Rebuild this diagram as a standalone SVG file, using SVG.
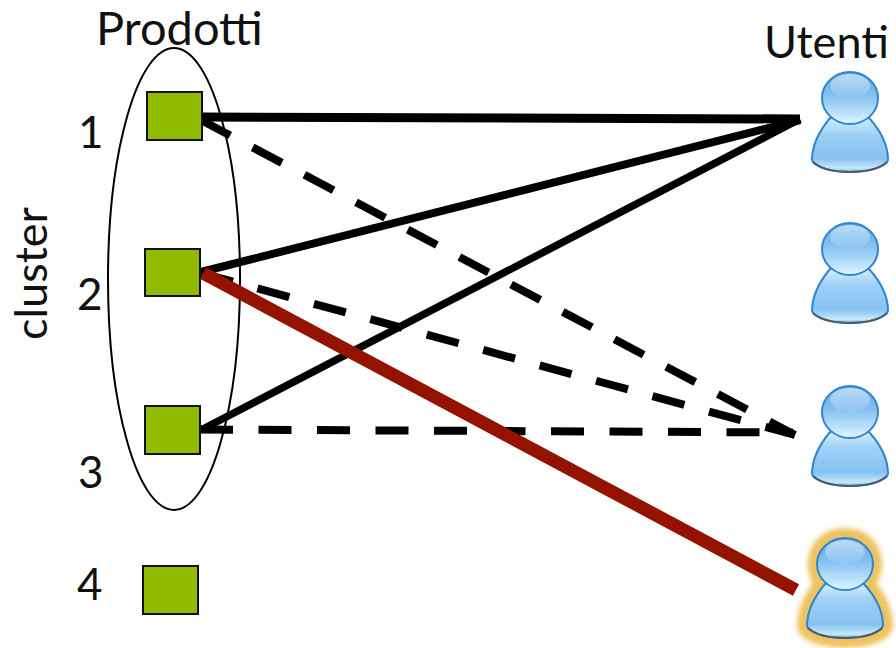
<svg xmlns="http://www.w3.org/2000/svg" width="896" height="648" viewBox="0 0 896 648">
<style>
text{font-family:"Lato","Noto Sans",sans-serif;fill:#111;font-size:44px}
.sq{fill:#91bb00;stroke:#111;stroke-width:2}
.k{stroke:#000;fill:none}
.d{stroke:#000;stroke-width:8;fill:none;stroke-dasharray:33 25.5}
</style>
<defs>
<linearGradient id="hg" x1="0" y1="0" x2="0" y2="1"><stop offset="0" stop-color="#5ba6e8"/><stop offset=".45" stop-color="#86c0f1"/><stop offset=".85" stop-color="#c4e8fc"/><stop offset="1" stop-color="#e6f8ff"/></linearGradient>
<linearGradient id="bg" x1="0" y1="0" x2="0" y2="1"><stop offset="0" stop-color="#d4eefc"/><stop offset=".3" stop-color="#9ed0f6"/><stop offset=".75" stop-color="#86c2f2"/><stop offset=".93" stop-color="#c8e8fb"/><stop offset="1" stop-color="#6fb2e8"/></linearGradient>
<linearGradient id="sh" x1="0" y1="0" x2="0" y2="1"><stop offset="0" stop-color="#fff" stop-opacity=".6"/><stop offset="1" stop-color="#fff" stop-opacity=".05"/></linearGradient>
<filter id="glow" x="-30%" y="-30%" width="160%" height="160%"><feGaussianBlur stdDeviation="2.5"/></filter>
<g id="person">
<path d="M-20 46C-30 58-38 72-38 88C-36 95-18 100 0 100C18 100 36 95 38 88C38 72 30 58 19 46Z" fill="url(#bg)" stroke="#2f86cf" stroke-width="2"/>
<path d="M-37 90C-28 98-12 100 0 100C12 100 28 98 37 90" fill="none" stroke="#4e5a66" stroke-width="2"/>
<ellipse cx="0" cy="26" rx="28" ry="26" fill="url(#hg)" stroke="#2f86cf" stroke-width="2"/>
<ellipse cx="0" cy="14" rx="20" ry="12" fill="url(#sh)"/>
</g>
<path id="halo" d="M-20 46C-30 58-38 72-38 88C-36 95-18 100 0 100C18 100 36 95 38 88C38 72 30 58 19 46C34 30 28 0 0 0C-28 0-34 30-20 46Z" fill="#edc35f" stroke="#edc35f" stroke-width="20" stroke-linejoin="round" filter="url(#glow)"/>
</defs>
<g id="cluster-ellipse"><ellipse cx="174" cy="279" rx="66" ry="231" fill="none" stroke="#000" stroke-width="2"/></g>
<g id="connectors">
<path class="k" stroke-width="9" d="M202 117L800 119"/>
<path class="k" stroke-width="8" d="M201 272L800 120"/>
<path class="k" stroke-width="7.5" d="M201 430L800 119"/>
<path class="d" d="M201 120L795 435"/>
<path class="d" d="M201 273L795 435"/>
<path class="d" d="M200 429.500L793 432.500"/>
<path stroke="#931300" stroke-width="13" fill="none" d="M203 273L796 590"/>
</g>
<g id="prodotto-1"><rect class="sq" x="147" y="92" width="55" height="48"/><text x="78" y="148">1</text></g>
<g id="prodotto-2"><rect class="sq" x="145" y="249" width="55" height="47"/><text x="77" y="310">2</text></g>
<g id="prodotto-3"><rect class="sq" x="145" y="406" width="55" height="48"/><text x="78" y="488">3</text></g>
<g id="prodotto-4"><rect class="sq" x="143" y="566" width="55" height="48"/><text x="77" y="600">4</text></g>
<g id="titolo-prodotti"><text x="96" y="45" style="font-size:47px">Prodotti</text></g>
<g id="titolo-utenti"><text x="764" y="58" style="font-size:45px">Utenti</text></g>
<g id="titolo-cluster"><text transform="translate(47 340) rotate(-90)" style="font-size:45px">cluster</text></g>
<g id="utente-1"><use href="#person" x="850" y="72"/></g>
<g id="utente-2"><use href="#person" x="850" y="223"/></g>
<g id="utente-3"><use href="#person" x="850" y="386"/></g>
<g id="utente-4"><use href="#halo" x="845" y="538"/><use href="#person" x="845" y="538"/></g>
</svg>
